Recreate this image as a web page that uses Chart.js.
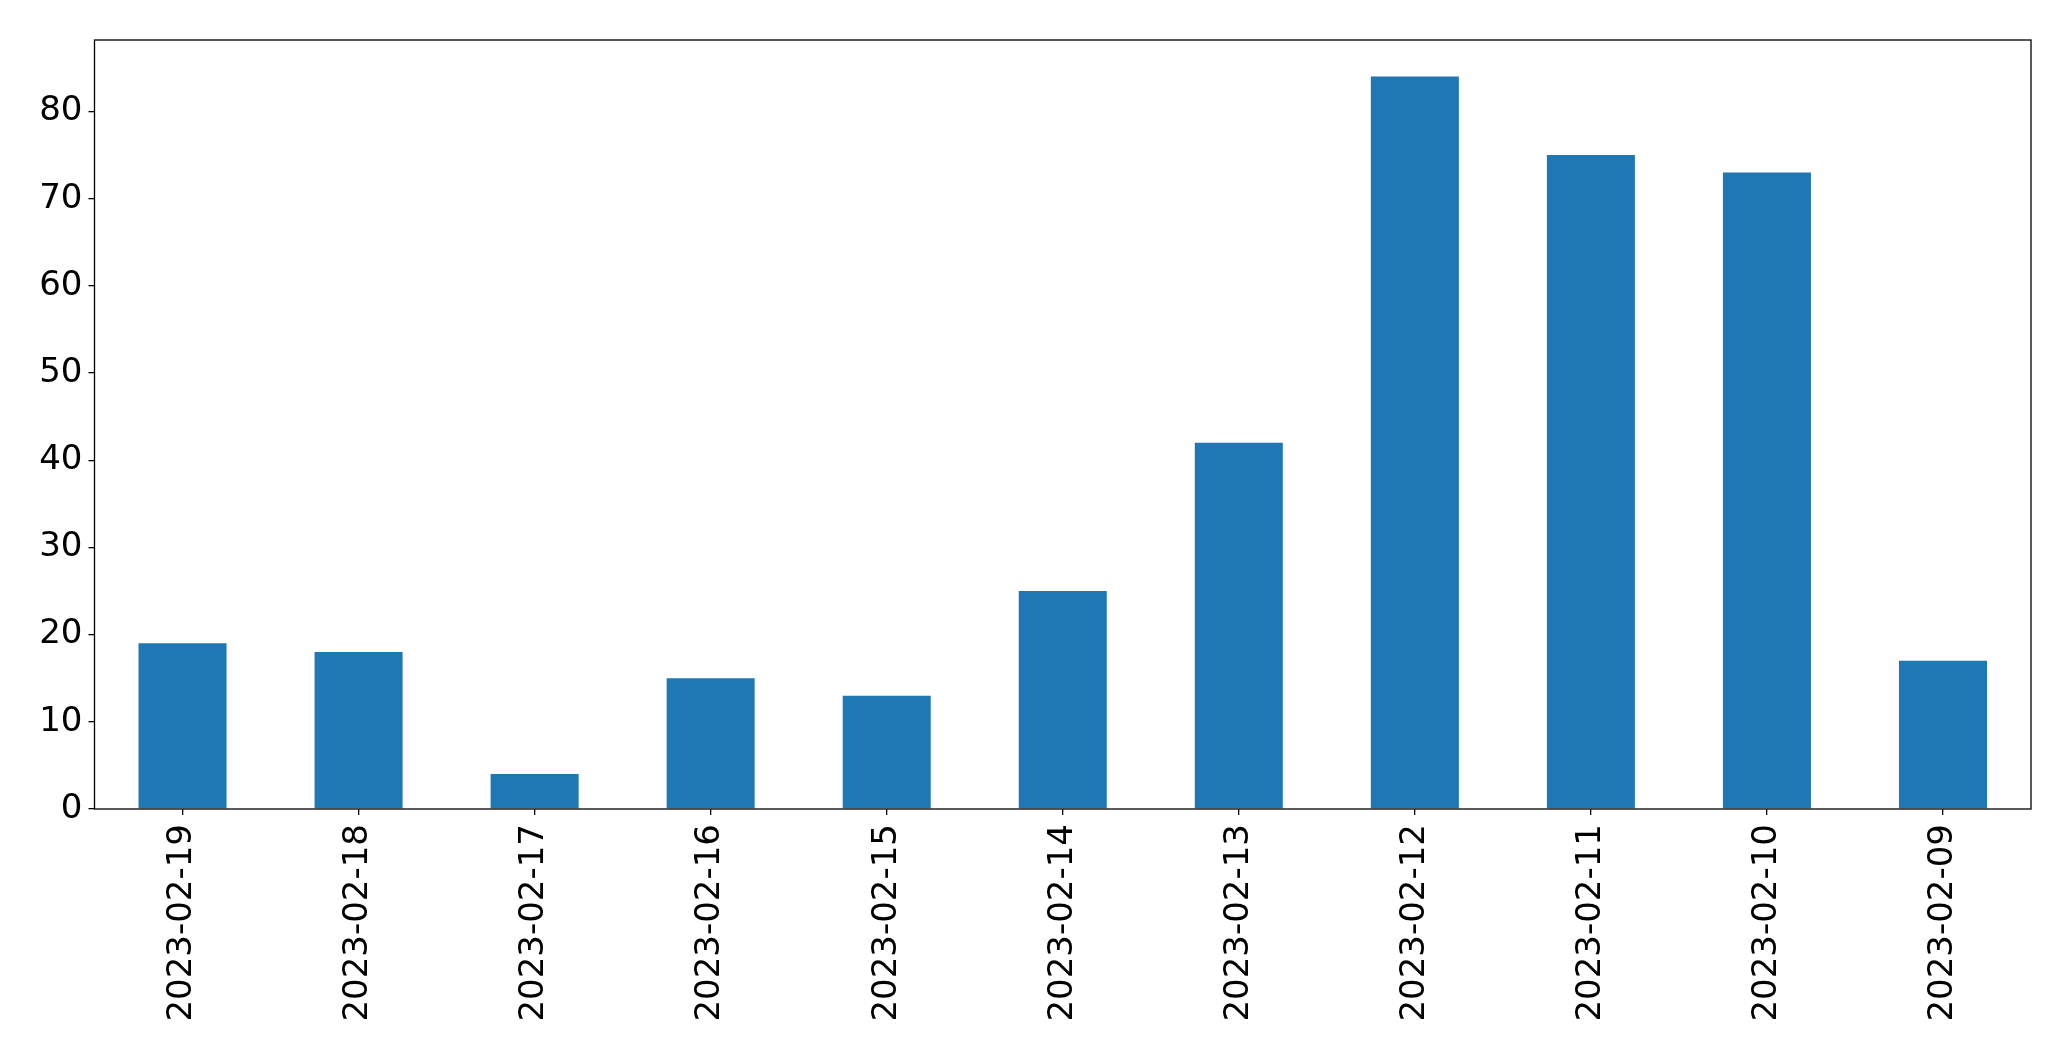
<!DOCTYPE html>
<html>
<head>
<meta charset="utf-8">
<script src="https://cdn.jsdelivr.net/npm/chart.js@4/dist/chart.umd.min.js"></script>
<style>
  html, body { margin: 0; padding: 0; background: #fff; }
  #wrap { width: 2071px; height: 1061px; }
</style>
</head>
<body>
<div id="wrap"><canvas id="chart"></canvas></div>
<script>
// Daily counts, newest first (as in the source plot)
const dates = ['2023-02-19', '2023-02-18', '2023-02-17', '2023-02-16', '2023-02-15',
  '2023-02-14', '2023-02-13', '2023-02-12', '2023-02-11', '2023-02-10', '2023-02-09'];
const counts = [19, 18, 4, 15, 13, 25, 42, 84, 75, 73, 17];
const yTicks = [0, 10, 20, 30, 40, 50, 60, 70, 80];

const BAR_BLUE = '#1f77b4';
const FONT = { family: 'DejaVu Sans', size: 34 };

// matplotlib-style frame around the axes
const frame = {
  id: 'frame',
  afterDraw(chart) {
    const { ctx, chartArea: a } = chart;
    ctx.save();
    ctx.strokeStyle = '#000';
    ctx.lineWidth = 1.3;
    ctx.strokeRect(a.left, a.top, a.right - a.left, a.bottom - a.top);
    ctx.restore();
  },
};

new Chart(document.getElementById('chart'), {
  type: 'bar',
  data: {
    labels: dates,
    datasets: [{
      data: counts,
      backgroundColor: BAR_BLUE,
      barPercentage: 0.5,
      categoryPercentage: 1.0,
    }],
  },
  options: {
    responsive: true,
    maintainAspectRatio: false,
    animation: false,
    layout: { padding: { top: 40, right: 40, left: 0, bottom: 0 } },
    plugins: { legend: { display: false }, tooltip: { enabled: false } },
    scales: {
      x: {
        grid: { display: true, offset: false, drawOnChartArea: false, drawTicks: true, tickLength: 6, color: '#000', lineWidth: 1.3 },
        border: { display: false },
        ticks: { color: '#000', font: FONT, maxRotation: 90, minRotation: 90, padding: 9, autoSkip: false },
        afterFit(scale) { scale.height = 252; },
      },
      y: {
        min: 0,
        max: 88.2,
        grid: { display: true, drawOnChartArea: false, drawTicks: true, tickLength: 6, color: '#000', lineWidth: 1.3 },
        border: { display: false },
        ticks: { color: '#000', font: FONT, padding: 6 },
        afterBuildTicks(scale) { scale.ticks = yTicks.map(v => ({ value: v })); },
        afterFit(scale) { scale.width = 94.5; },
      },
    },
  },
  plugins: [frame],
});
</script>
</body>
</html>
